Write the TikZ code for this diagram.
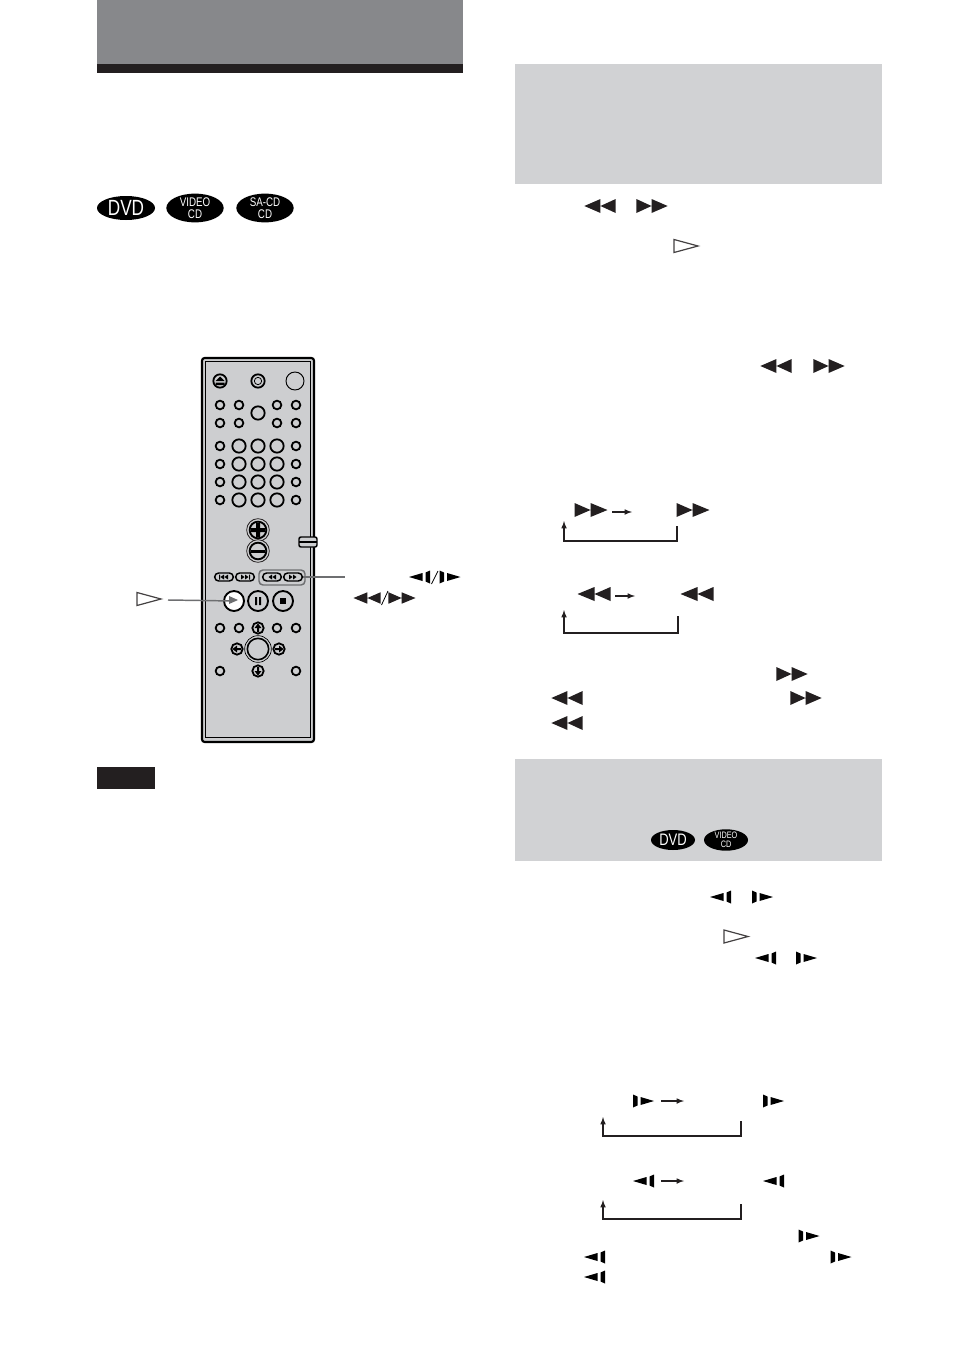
\documentclass[tikz,border=0pt]{standalone}
\usepackage{fontspec}
\setsansfont{Liberation Sans}
\newfontfamily\badgefont[FakeStretch=0.78]{Liberation Sans}
\usetikzlibrary{arrows,shapes.geometric,shapes.misc,positioning}
\definecolor{bandgray}{HTML}{87888B}
\definecolor{panelgray}{HTML}{D1D2D4}
\definecolor{bodygray}{HTML}{CDCED0}
\definecolor{leadgray}{HTML}{6E6F71}
\definecolor{inkblack}{HTML}{231F20}
\begin{document}
\begin{tikzpicture}
[x=0.75pt,y=-0.75pt,
smallbtn/.style={circle,draw=black,fill=bodygray,line width=1.35pt,inner sep=0pt,minimum size=6.5pt},
midbtn/.style={circle,draw=black,fill=bodygray,line width=1.35pt,inner sep=0pt,minimum size=10pt},
bigbtn/.style={circle,draw=black,fill=bodygray,line width=1.4pt,inner sep=0pt,minimum size=15pt},
ringbtn/.style={circle,draw=inkblack,line width=0.6pt,inner sep=0pt,minimum size=17pt},
pill/.style={rounded rectangle,draw=black,fill=bodygray,line width=1.1pt,inner sep=0pt,minimum width=14pt,minimum height=6pt},
badge/.style={ellipse,fill=black,text=white,inner sep=0pt,align=center},
lead/.style={draw=leadgray,line width=1.1pt},
loopline/.style={draw=inkblack,line width=0.9pt},
ffsym/.pic={\fill[inkblack] (-16.5,-7) -- (-0.5,0) -- (-16.5,7) -- cycle (-0.5,-7) -- (16.5,0) -- (-0.5,7) -- cycle;},
stepsym/.pic={\fill[black] (-10.5,-6.5) -- (-6,-4.5) -- (-6,4.5) -- (-10.5,6.5) -- cycle (-3,-4) -- (10.5,0) -- (-3,4) -- cycle;},
playopen/.pic={\draw[inkblack!85,line width=0.9pt,fill=white] (-12,-6.5) -- (12,0) -- (-12,6.5) -- cycle;},
dirsym/.pic={\fill[black] (0,-4.5) -- (3.5,0) -- (1,0) -- (1,4) -- (-1,4) -- (-1,0) -- (-3.5,0) -- cycle;}]
\useasboundingbox (0,0) rectangle (954,1352);

% title band and panels
\fill[bandgray] (97,0) rectangle (463,64);
\fill[inkblack] (97,64) rectangle (463,73);
\fill[panelgray] (515,64) rectangle (882,184);
\fill[panelgray] (515,759) rectangle (882,861);
\fill[inkblack] (97,767) rectangle (155,789);

% disc marks
\node[badge,minimum width=43.5pt,minimum height=18pt,font=\badgefont\fontsize{16.5}{16.5}\selectfont] (dvda) at (126,208) {DVD};
\node[badge,minimum width=43pt,minimum height=18pt,font=\badgefont\fontsize{9.4}{8.6}\selectfont] (vcda) at (195,208) {VIDEO\\CD};
\node[badge,minimum width=43pt,minimum height=18pt,font=\badgefont\fontsize{9.4}{8.6}\selectfont] (sacd) at (265,208) {SA-CD\\CD};
\node[badge,minimum width=33pt,minimum height=15pt,font=\badgefont\fontsize{12.5}{12.5}\selectfont] (dvdb) at (673,840) {DVD};
\node[badge,minimum width=33pt,minimum height=15pt,font=\badgefont\fontsize{7}{6.4}\selectfont] (vcdb) at (726,840) {VIDEO\\CD};

% remote body
\draw[black,line width=1.6pt,fill=bodygray,rounded corners=2pt] (202,358) rectangle (314,742);
\draw[black,line width=0.6pt] (205,361) rectangle (310,737);

\node[midbtn] (eject) at (220,381) {};
\fill[black] (215.5,381) -- (220,376.5) -- (224.5,381) -- cycle (215.5,382.5) rectangle (224.5,385);
\node[midbtn,minimum size=10pt] (ring) at (258,381) {};
\node[circle,draw=black,line width=0.6pt,inner sep=0pt,minimum size=5.5pt] (ringin) at (258,381) {};
\node[circle,draw=black,fill=bodygray,line width=0.7pt,inner sep=0pt,minimum size=13.5pt] (power) at (295,381) {};

\foreach \y in {405,423}
  \foreach \x in {220,239,277,296}
    \node[smallbtn] (top\x\y) at (\x,\y) {};
\node[midbtn] (topmid) at (258,413) {};

\foreach \y in {446,464,482,500}{
  \foreach \x in {220,296}
    \node[smallbtn] (num\x\y) at (\x,\y) {};
  \foreach \x in {239,258,277}
    \node[midbtn] (num\x\y) at (\x,\y) {};
}

\node[ringbtn,fill=bodygray] (plusring) at (258,530) {};
\node[ringbtn,fill=bodygray] (minusring) at (258,551) {};
\node[bigbtn,minimum size=12.5pt] (plus) at (258,530) {};
\node[bigbtn,minimum size=12.5pt] (minus) at (258,551) {};
\fill[black] (251,528) rectangle (265,532) (256,523) rectangle (260,537);
\fill[black] (251,549.5) rectangle (265,552.5);

% side switch
\draw[black,line width=1.1pt,fill=bodygray,rounded corners=1.5pt] (299,537) rectangle (317,547);
\draw[black,line width=0.8pt] (299,542) -- (317,542);

\node[pill] (prev) at (224,577) {};
\node[pill] (next) at (245,577) {};
\fill[black] (219,574.5) rectangle (220,579.5) (224,574.5) -- (220.5,577) -- (224,579.5) -- cycle (228,574.5) -- (224.5,577) -- (228,579.5) -- cycle;
\fill[black] (241,574.5) -- (244.5,577) -- (241,579.5) -- cycle (245,574.5) -- (248.5,577) -- (245,579.5) -- cycle (249,574.5) rectangle (250,579.5);
\draw[leadgray,line width=1.1pt,rounded corners=3pt] (259,570) rectangle (305,585);
\node[pill] (rewbtn) at (272,577) {};
\node[pill] (ffbtn) at (293,577) {};
\fill[black] (272,574.5) -- (268.5,577) -- (272,579.5) -- cycle (276,574.5) -- (272.5,577) -- (276,579.5) -- cycle;
\fill[black] (289,574.5) -- (292.5,577) -- (289,579.5) -- cycle (293,574.5) -- (296.5,577) -- (293,579.5) -- cycle;

\node[bigbtn,fill=white] (playbtn) at (234,601) {};
\node[bigbtn] (pausebtn) at (258,601) {};
\node[bigbtn] (stopbtn) at (283,601) {};
\fill[black] (255,597) rectangle (257,605) (259,597) rectangle (261,605);
\fill[black] (280,598) rectangle (286,604);

\foreach \x in {220,239,277,296}
  \node[smallbtn] (low\x) at (\x,628) {};
\foreach \x in {220,296}
  \node[smallbtn] (bot\x) at (\x,671) {};
\node[circle,draw=black,line width=0.5pt,inner sep=0pt,minimum size=20pt] (enterring) at (258,649) {};
\node[bigbtn,minimum size=16pt,line width=1.2pt] (enter) at (258,649) {};
\node[midbtn,minimum size=8.5pt] (upbtn) at (258,628) {};
\node[midbtn,minimum size=8.5pt] (downbtn) at (258,671) {};
\node[midbtn,minimum size=8.5pt] (leftbtn) at (237,649) {};
\node[midbtn,minimum size=8.5pt] (rightbtn) at (279,649) {};
\pic at (258,628) {dirsym};
\pic[rotate=180] at (258,671) {dirsym};
\pic[rotate=90] at (237,649) {dirsym};
\pic[rotate=-90] at (279,649) {dirsym};

% leaders and their marks
\coordinate (playend) at (168,600);
\coordinate (ffend) at (345,577);
\draw[lead] (playend) -- (playbtn.center);
\fill[leadgray] (229,596) -- (238,600) -- (229,604) -- cycle;
\draw[lead] (ffbtn.east) -- (ffend);
\pic at (149,599) {playopen};
\pic[xscale=-1] at (419.5,577) {stepsym};
\pic at (450,577) {stepsym};
\draw[black,line width=0.6pt] (431.5,584) -- (438,571);
\pic[xscale=-0.82,yscale=0.82] at (367,598) {ffsym};
\pic[scale=0.82] at (402,598) {ffsym};
\draw[black,line width=0.6pt] (381.5,605) -- (388,591);

% symbols of the right column
\pic[xscale=-0.95] at (600,206) {ffsym};
\pic[xscale=0.95] at (652,206) {ffsym};
\pic at (686,246) {playopen};
\pic[xscale=-0.95] at (776,366) {ffsym};
\pic[xscale=0.95] at (829,366) {ffsym};
\pic at (591,510) {ffsym};
\pic at (693,510) {ffsym};
\pic[xscale=-1] at (594,594) {ffsym};
\pic[xscale=-1] at (697,594) {ffsym};
\pic[xscale=0.95] at (792,674) {ffsym};
\pic[xscale=-0.95] at (567,698) {ffsym};
\pic[xscale=0.95] at (806,698) {ffsym};
\pic[xscale=-0.95] at (567,723) {ffsym};

\pic[xscale=-1] at (720.5,897) {stepsym};
\pic at (762.5,897) {stepsym};
\pic at (736,936.5) {playopen};
\pic[xscale=-1] at (765.5,958) {stepsym};
\pic at (806.5,958) {stepsym};
\pic at (643.5,1101) {stepsym};
\pic at (773.5,1101) {stepsym};
\pic[xscale=-1] at (643.5,1181) {stepsym};
\pic[xscale=-1] at (773.5,1181) {stepsym};
\pic at (809,1236) {stepsym};
\pic[xscale=-1] at (594.5,1257) {stepsym};
\pic at (841,1257) {stepsym};
\pic[xscale=-1] at (594.5,1277) {stepsym};

% sequence arrows
\foreach \n/\xa/\xb/\y in {a/612/632/512,b/615/635/596,c/661/684/1101,d/661/684/1181}{
  \coordinate (seq\n s) at (\xa,\y);
  \coordinate (seq\n e) at (\xb,\y);
  \draw[-latex,loopline] (seq\n s) -- (seq\n e);
}

% return loops
\foreach \n/\xl/\xr/\yt/\ya/\yb in {a/564/677/521/526/541,b/564/678/610/616/633,c/603/741/1117/1121/1136,d/603/741/1200/1204/1219}{
  \coordinate (loop\n r) at (\xr,\ya);
  \coordinate (loop\n c) at (\xr,\yb);
  \coordinate (loop\n d) at (\xl,\yb);
  \coordinate (loop\n t) at (\xl,\yt);
  \draw[-latex,loopline] (loop\n r) -- (loop\n c) -- (loop\n d) -- (loop\n t);
}
\end{tikzpicture}
\end{document}
